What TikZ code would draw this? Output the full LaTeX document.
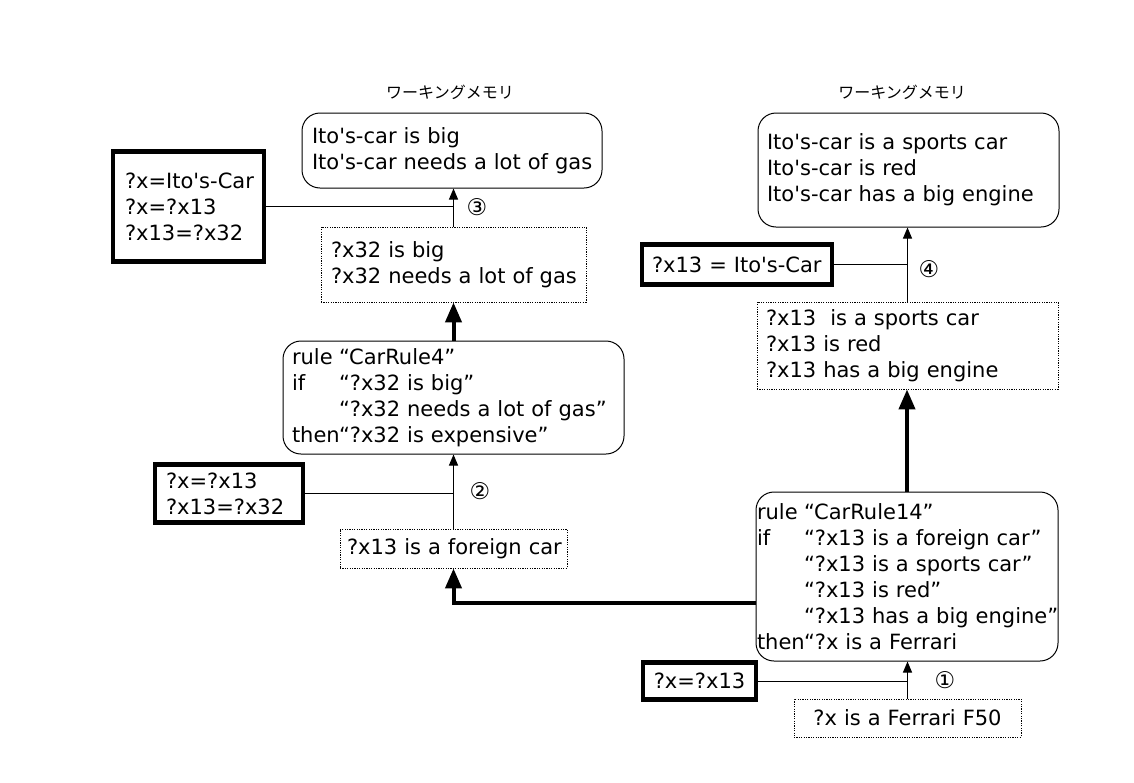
\documentclass[tikz,border=0pt]{standalone}
\usepackage{fontspec}
\setmainfont{DejaVu Sans}
\newfontfamily\jp{Noto Sans CJK JP}
\usetikzlibrary{arrows.meta}
\newcommand\ap{\textquotesingle}
\newcommand\kw[1]{\makebox[47pt][l]{#1}}
\newcommand\nb[1]{\mbox{#1}}
\begin{document}
\begin{tikzpicture}[x=1pt,y=-1pt,
  every node/.style={font=\fontsize{21}{26}\selectfont, inner ysep=0pt},
  wm/.style={draw, line width=1pt, rounded corners=18pt, align=left},
  cond/.style={draw, line width=0.8pt, dash pattern=on 1.2pt off 1.2pt, align=left},
  bind/.style={draw, line width=4.5pt, align=left},
  thinline/.style={line width=1pt},
  thinarr/.style={line width=1pt, -{Triangle[length=11pt,width=9pt]}},
  thickarr/.style={line width=4pt, -{Triangle[length=20pt,width=16pt]}},
  num/.style={font=\fontsize{23}{23}\selectfont},
  ttl/.style={font=\jp\fontsize{16}{16}\selectfont}]
\useasboundingbox (0,0) rectangle (1134,782);

% titles
\node[ttl] (t1) at (450,92) {ワーキングメモリ};
\node[ttl] (t2) at (902,92) {ワーキングメモリ};

% left column
\node[wm, minimum width=300pt, minimum height=75pt, text width=280pt, inner xsep=10pt] (wmL) at (452,150.5)
  {\nb{Ito\ap s-car is big}\\\nb{Ito\ap s-car needs a lot of gas}};
\node[bind, minimum width=151pt, minimum height=110pt, text width=127pt, inner xsep=12pt] (b3) at (188.5,206.5)
  {\nb{?x=Ito\ap s-Car}\\\nb{?x=?x13}\\\nb{?x13=?x32}};
\node[cond, minimum width=265pt, minimum height=75pt, text width=245pt, inner xsep=10pt] (c3) at (453.5,264.5)
  {\nb{?x32 is big}\\\nb{?x32 needs a lot of gas}};
\node[wm, minimum width=341pt, minimum height=113pt, text width=323pt, inner xsep=9pt] (r4) at (453.5,397.5)
  {\nb{\kw{rule}“CarRule4”}\\\nb{\kw{if}“?x32 is big”}\\\nb{\kw{}“?x32 needs a lot of gas”}\\\nb{\kw{then}“?x32 is expensive”}};
\node[bind, minimum width=148pt, minimum height=58pt, text width=126pt, inner xsep=11pt] (b2) at (229,493.5)
  {\nb{?x=?x13}\\\nb{?x13=?x32}};
\node[cond, minimum width=227pt, minimum height=39pt, text width=213pt, inner xsep=7pt] (c2) at (453.5,548.5)
  {\nb{?x13 is a foreign car}};

% right column
\node[wm, minimum width=301pt, minimum height=114pt, text width=283pt, inner xsep=9pt] (wmR) at (908.5,170)
  {\nb{Ito\ap s-car is a sports car}\\\nb{Ito\ap s-car is red}\\\nb{Ito\ap s-car has a big engine}};
\node[bind, minimum width=190pt, minimum height=40pt, text width=170pt, inner xsep=10pt] (b4) at (737,264.5)
  {\nb{?x13 = Ito\ap s-Car}};
\node[cond, minimum width=301pt, minimum height=87pt, text width=283pt, inner xsep=9pt] (c4) at (907.5,345.5)
  {\nb{?x13 \ is a sports car}\\\nb{?x13 is red}\\\nb{?x13 has a big engine}};
\node[wm, minimum width=302pt, minimum height=169pt, text width=300pt, inner xsep=1pt] (r14) at (907,576.5)
  {\nb{\kw{rule}“CarRule14”}\\\nb{\kw{if}“?x13 is a foreign car”}\\\nb{\kw{}“?x13 is a sports car”}\\\nb{\kw{}“?x13 is red”}\\\nb{\kw{}“?x13 has a big engine”}\\\nb{\kw{then}“?x is a Ferrari}};
\node[bind, minimum width=113pt, minimum height=37pt, text width=97pt, inner xsep=8pt] (b1) at (699.5,681)
  {\hfil\nb{?x=?x13}\hfil};
\node[cond, minimum width=227pt, minimum height=38pt, text width=213pt, inner xsep=7pt] (c1) at (907.5,718)
  {\hfil\nb{?x is a Ferrari F50}\hfil};

% step numbers
\node[num] (n3) at (477,207) {③};
\node[num] (n2) at (480,491) {②};
\node[num] (n4) at (929,269) {④};
\node[num] (n1) at (945,680) {①};

% connectors left
\draw[thinarr] (c3.north) -- (c3.north |- wmL.south);
\draw[thinline] (b3.east) -- (b3.east -| c3.north);
\draw[thickarr] (r4.north) -- (r4.north |- c3.south);
\draw[thinarr] (c2.north) -- (c2.north |- r4.south);
\draw[thinline] (b2.east) -- (b2.east -| c2.north);
\draw[thickarr] ([yshift=-26.5pt]r14.west) -| (c2.south);

% connectors right
\draw[thinarr] (c4.north) -- (c4.north |- wmR.south);
\draw[thinline] (b4.east) -- (b4.east -| c4.north);
\draw[thickarr] (r14.north) -- (r14.north |- c4.south);
\draw[thinarr] (c1.north) -- (c1.north |- r14.south);
\draw[thinline] (b1.east) -- (b1.east -| c1.north);
\end{tikzpicture}
\end{document}
